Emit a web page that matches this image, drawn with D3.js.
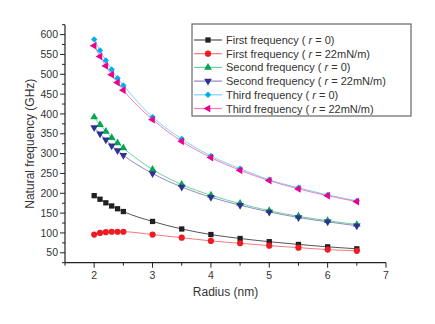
<!DOCTYPE html>
<html>
<head>
<meta charset="utf-8">
<script src="https://cdn.jsdelivr.net/npm/d3@7"></script>
<style>
  body { margin: 0; background: #fff; }
  svg { font-family: "Liberation Sans", Arial, sans-serif; }
</style>
</head>
<body>
<div id="chart"></div>
<script>
// Dados
const radius = [2, 2.1, 2.2, 2.3, 2.4, 2.5, 3, 3.5, 4, 4.5, 5, 5.5, 6, 6.5];
const first0 = [194, 185, 176, 168, 161, 154, 129, 110, 96, 86, 78, 71, 65, 60];
const first22 = [96, 100, 102, 103, 103, 103, 96, 88, 80, 74, 68, 63, 58, 55];
const second0 = [392, 373, 356, 340, 327, 314, 260, 222, 195, 174, 156, 142, 131, 121];
const second22 = [366, 350, 335, 320, 308, 296, 250, 216, 190, 170, 153, 139, 128, 118];
const third0 = [588, 560, 535, 512, 490, 472, 392, 337, 294, 262, 234, 214, 196, 181];
const third22 = [572, 545, 521, 499, 479, 460, 386, 331, 290, 258, 232, 211, 194, 179];
const seriesNames = ["First frequency", "First frequency", "Second frequency",
  "Second frequency", "Third frequency", "Third frequency"];
const rValues = ["0", "22mN/m", "0", "22mN/m", "0", "22mN/m"];
const xTicks = [2, 3, 4, 5, 6, 7];
const yTicks = [50, 100, 150, 200, 250, 300, 350, 400, 450, 500, 550, 600];

const series = [
  { values: first0, symbol: d3.symbolSquare, size: 28, rot: 0, fill: "#231f20", stroke: "#555" },
  { values: first22, symbol: d3.symbolCircle, size: 30, rot: 0, fill: "#ed1c24", stroke: "#f47a7e" },
  { values: second0, symbol: d3.symbolTriangle, size: 26, rot: 0, fill: "#00a651", stroke: "#73d19a" },
  { values: second22, symbol: d3.symbolTriangle, size: 26, rot: 180, fill: "#2e3192", stroke: "#8a8cc8" },
  { values: third0, symbol: d3.symbolDiamond2, size: 26, rot: 0, fill: "#00aeef", stroke: "#7fd4f5" },
  { values: third22, symbol: d3.symbolTriangle, size: 26, rot: -90, fill: "#ec008c", stroke: "#f27dbf" }
];

const W = 435, H = 324;
const x = d3.scaleLinear().domain([1.5, 7]).range([65, 386]);
const y = d3.scaleLinear().domain([25, 625]).range([262.7, 24.7]);

const svg = d3.select("#chart").append("svg")
  .attr("width", W).attr("height", H);

// Eixos
const xAxis = svg.append("g").attr("transform", `translate(0,${y(25)})`);
xAxis.append("line").attr("x1", x(1.5)).attr("x2", x(7)).attr("stroke", "#222").attr("stroke-width", 1.2);
d3.range(1.5, 7.01, 0.5).forEach(v => {
  const major = Number.isInteger(v);
  xAxis.append("line").attr("x1", x(v)).attr("x2", x(v))
    .attr("y1", 0).attr("y2", major ? 5 : 3).attr("stroke", "#222");
});
xAxis.selectAll("text.tick").data(xTicks).enter().append("text")
  .attr("x", d => x(d)).attr("y", 16).attr("text-anchor", "middle")
  .attr("font-size", 10.5).attr("fill", "#333").text(d => d);

const yAxis = svg.append("g").attr("transform", `translate(${x(1.5)},0)`);
yAxis.append("line").attr("y1", y(25)).attr("y2", y(625)).attr("stroke", "#222").attr("stroke-width", 1.2);
d3.range(25, 626, 25).forEach(v => {
  const major = v % 50 === 0;
  yAxis.append("line").attr("y1", y(v)).attr("y2", y(v))
    .attr("x1", 0).attr("x2", major ? -5 : -3).attr("stroke", "#222");
});
yAxis.selectAll("text.tick").data(yTicks).enter().append("text")
  .attr("x", -7).attr("y", d => y(d) + 3.6).attr("text-anchor", "end")
  .attr("font-size", 10.5).attr("fill", "#333").text(d => d);

svg.append("text").attr("x", x(4.25)).attr("y", 296).attr("text-anchor", "middle")
  .attr("font-size", 12).attr("fill", "#333").text("Radius (nm)");
svg.append("text").attr("transform", `translate(34,${y(325)}) rotate(-90)`)
  .attr("text-anchor", "middle").attr("font-size", 12).attr("fill", "#333")
  .text("Natural frequency (GHz)");

// Símbolos
function marker(sel, s, cx, cy) {
  sel.append("path").attr("d", d3.symbol(s.symbol, s.size)())
    .attr("transform", `translate(${cx},${cy}) rotate(${s.rot})`).attr("fill", s.fill);
}

const line = d3.line().x(d => x(d[0])).y(d => y(d[1])).curve(d3.curveMonotoneX);

series.forEach(s => {
  const pts = radius.map((r, i) => [r, s.values[i]]);
  svg.append("path").attr("d", line(pts)).attr("fill", "none")
    .attr("stroke", s.stroke).attr("stroke-width", 1);
});
series.forEach(s => {
  const g = svg.append("g");
  radius.forEach((r, i) => marker(g, s, x(r), y(s.values[i])));
});

// Legenda
const leg = svg.append("g");
leg.append("rect").attr("x", 192).attr("y", 24).attr("width", 219).attr("height", 92)
  .attr("fill", "#fff").attr("stroke", "#666").attr("stroke-width", 1.2);
series.forEach((s, i) => {
  const ly = 40 + i * 13.7;
  leg.append("line").attr("x1", 194).attr("x2", 222).attr("y1", ly).attr("y2", ly)
    .attr("stroke", s.stroke).attr("stroke-width", 1.2);
  marker(leg, s, 208, ly);
  const t = leg.append("text").attr("x", 226).attr("y", ly + 4)
    .attr("font-size", 11).attr("fill", "#333");
  t.append("tspan").text(seriesNames[i] + " ( ");
  t.append("tspan").attr("font-style", "italic").text("r");
  t.append("tspan").text(" = " + rValues[i] + ")");
});
</script>
</body>
</html>
